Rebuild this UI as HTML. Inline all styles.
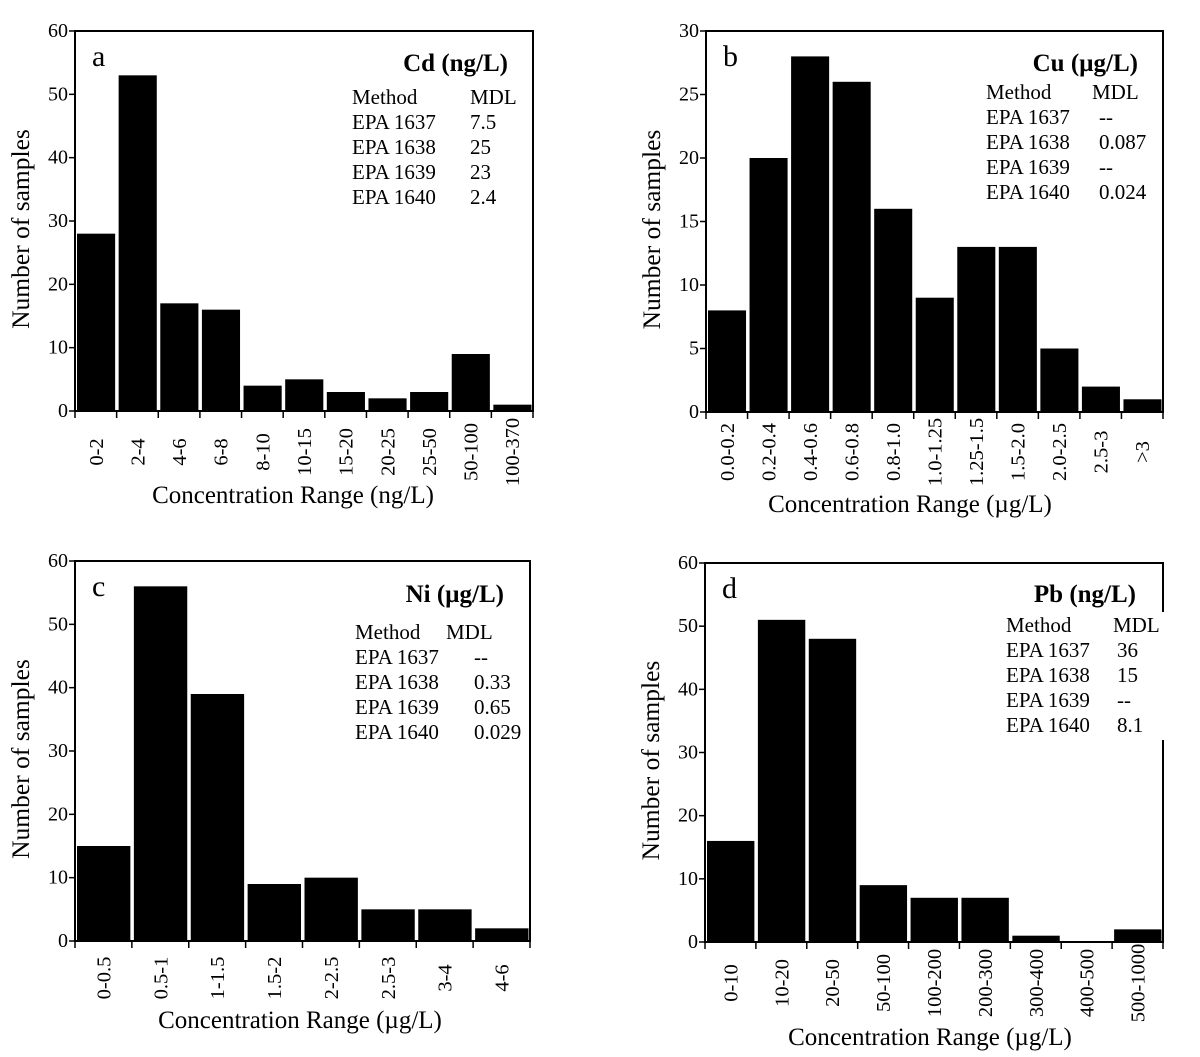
<!DOCTYPE html>
<html><head><meta charset="utf-8">
<style>
html,body{margin:0;padding:0;background:#fff;}
svg{display:block;font-family:"Liberation Serif","DejaVu Serif",serif;}
</style></head>
<body>
<svg id="fig" width="1200" height="1057" viewBox="0 0 1200 1057" xmlns="http://www.w3.org/2000/svg"></svg>
<script>
const catsA=["0-2","2-4","4-6","6-8","8-10","10-15","15-20","20-25","25-50","50-100","100-370"];
const valsA=[28,53,17,16,4,5,3,2,3,9,1];
const ticksA=[0,10,20,30,40,50,60];
const catsB=["0.0-0.2","0.2-0.4","0.4-0.6","0.6-0.8","0.8-1.0","1.0-1.25","1.25-1.5","1.5-2.0","2.0-2.5","2.5-3",">3"];
const valsB=[8,20,28,26,16,9,13,13,5,2,1];
const ticksB=[0,5,10,15,20,25,30];
const catsC=["0-0.5","0.5-1","1-1.5","1.5-2","2-2.5","2.5-3","3-4","4-6"];
const valsC=[15,56,39,9,10,5,5,2];
const ticksC=[0,10,20,30,40,50,60];
const catsD=["0-10","10-20","20-50","50-100","100-200","200-300","300-400","400-500","500-1000"];
const valsD=[16,51,48,9,7,7,1,0,2];
const ticksD=[0,10,20,30,40,50,60];
const methods=["EPA 1637","EPA 1638","EPA 1639","EPA 1640"];
const mdlA=["7.5","25","23","2.4"];
const mdlB=["--","0.087","--","0.024"];
const mdlC=["--","0.33","0.65","0.029"];
const mdlD=["36","15","--","8.1"];

const NS="http://www.w3.org/2000/svg";
const svg=document.getElementById('fig');
function mk(tag,attrs,parent,txt){const e=document.createElementNS(NS,tag);for(const k in attrs)e.setAttribute(k,attrs[k]);if(txt!==undefined)e.textContent=txt;parent.appendChild(e);return e;}

function panel(o){
  const g=mk('g',{},svg);
  
  
  const ymax=o.ticks[o.ticks.length-1];
  const y=v=>o.B-(v/ymax)*(o.B-o.T);
  const bw=(o.R-o.L)/o.cats.length;
  const x=i=>o.L+i*bw;
  o.vals.forEach((v,i)=>{
    const r=mk('rect',{x:x(i)+2,y:y(v),width:bw-3.5,height:Math.max(0,o.B-y(v)),fill:'#000'},g);
    
    
  });
  const fr=mk('rect',{x:o.L,y:o.T,width:o.R-o.L,height:o.B-o.T,fill:'none',stroke:'#000','stroke-width':2},g);
  
  
  o.ticks.forEach(t=>{
    mk('line',{x1:o.L-6,x2:o.L,y1:y(t),y2:y(t),stroke:'#000','stroke-width':1.5},g);
    const tl=mk('text',{x:o.L-7,y:y(t)+6,'text-anchor':'end','font-size':20},g,t);
    
    
  });
  for(let i=0;i<=o.cats.length;i++){
    mk('line',{x1:x(i),x2:x(i),y1:o.B,y2:o.B+7,stroke:'#000','stroke-width':1.5},g);
  }
  o.cats.forEach((c,i)=>{
    const cx=x(i)+bw/2+7, cy=o.labY;
    const tl=mk('text',{x:cx,y:cy,'text-anchor':'middle','font-size':20.5,transform:`rotate(-90 ${cx} ${cy})`},g,c);
    
    
  });
  const xt=mk('text',{x:o.xtX,y:o.xtY,'text-anchor':'middle','font-size':25},g,o.xtitle);
  
  
  const ycx=o.L-46, ycy=(o.T+o.B)/2+8;
  const yt=mk('text',{x:ycx,y:ycy,'text-anchor':'middle','font-size':25.5,transform:`rotate(-90 ${ycx} ${ycy})`},g,'Number of samples');
  
  
  if(o.patch){const p=mk('rect',o.patch,g);p.setAttribute('fill','#fff');}
  const lt=mk('text',{x:o.L+17,y:o.T+35,'font-size':30},g,o.letter);
  
  
  const ti=mk('text',{x:o.titX,y:o.titY,'text-anchor':'end','font-size':25,'font-weight':'bold'},g,o.title);
  
  
  const h1=mk('text',{x:o.tx,y:o.ty,'font-size':21},g,'Method');
  
  
  const h2=mk('text',{x:o.mx,y:o.ty,'font-size':21},g,'MDL');
  
  
  methods.forEach((m,i)=>{
    const a=mk('text',{x:o.tx,y:o.ty+25*(i+1),'font-size':21},g,m);
    
    
    const b=mk('text',{x:o.mx+(o.mdlOff||0),y:o.ty+25*(i+1),'font-size':21},g,o.mdl[i]);
    
    
  });
}

panel({letter:'a',cats:catsA,vals:valsA,ticks:ticksA,L:75,R:533,T:31,B:411,labY:452,
  xtitle:'Concentration Range (ng/L)',xtX:293,xtY:503,title:'Cd (ng/L)',titX:508,titY:71,
  tx:352,mx:470,ty:104,mdl:mdlA});
panel({letter:'b',cats:catsB,vals:valsB,ticks:ticksB,L:706,R:1163,T:31,B:412,labY:452,
  xtitle:'Concentration Range (\u00b5g/L)',xtX:910,xtY:512,title:'Cu (\u00b5g/L)',titX:1138,titY:71,
  tx:986,mx:1092,ty:99,mdl:mdlB,mdlOff:7});
panel({letter:'c',cats:catsC,vals:valsC,ticks:ticksC,L:75,R:530,T:561,B:941,labY:978,
  xtitle:'Concentration Range (\u00b5g/L)',xtX:300,xtY:1028,title:'Ni (\u00b5g/L)',titX:504,titY:602,
  tx:355,mx:446,ty:639,mdl:mdlC,mdlOff:28});
panel({letter:'d',cats:catsD,vals:valsD,ticks:ticksD,L:705,R:1163,T:563,B:942,labY:983,
  xtitle:'Concentration Range (\u00b5g/L)',xtX:930,xtY:1045,title:'Pb (ng/L)',titX:1136,titY:602,
  tx:1006,mx:1113,ty:632,mdl:mdlD,mdlOff:4,patch:{x:1150,y:612,width:16,height:128}});
</script>
</body></html>
